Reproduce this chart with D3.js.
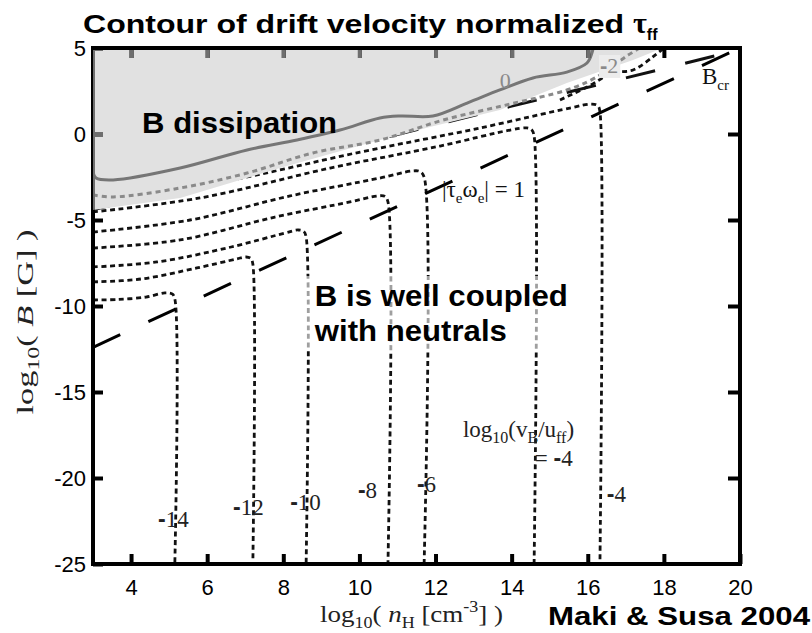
<!DOCTYPE html>
<html>
<head>
<meta charset="utf-8">
<script src="https://cdn.jsdelivr.net/npm/d3@7"></script>
<style>
  body { margin: 0; background: #fff; }
</style>
</head>
<body>
<div id="chart"></div>
<script>
// axis ticks
var xTicks = [4, 6, 8, 10, 12, 14, 16, 18, 20];
var yTicks = [5, 0, -5, -10, -15, -20, -25];

// dotted contours of log10(vB/uff): [log10 nH, log10 B]
var cN14 = [[3, -9.65], [3.66, -9.62], [4.39, -9.48], [4.89, -9.24], [5.08, -9.30], [5.15, -9.59], [5.15, -25]];
var cN12 = [[3, -8.60], [4.26, -8.43], [5.73, -7.79], [6.76, -7.27], [7.02, -7.15], [7.15, -7.24], [7.20, -7.56], [7.20, -25]];
var cN10 = [[3, -7.73], [4.68, -7.44], [6.63, -6.57], [8.04, -5.76], [8.39, -5.58], [8.54, -5.67], [8.60, -5.99], [8.60, -25]];
var cN8 = [[3, -6.63], [5.29, -6.16], [7.78, -4.83], [9.75, -3.95], [10.49, -3.60], [10.67, -3.63], [10.75, -3.95], [10.75, -25]];
var cN6 = [[3, -5.70], [5.55, -5.0], [8.18, -3.60], [10.54, -2.56], [11.38, -2.15], [11.59, -2.18], [11.70, -2.50], [11.70, -25]];
var cN4a = [[3, -4.53], [5.81, -3.72], [9.23, -1.98], [12.12, -0.70], [13.96, 0.23], [14.40, 0.35], [14.53, 0.23], [14.59, -0.12], [14.59, -25]];
var cN4b = [[3, -3.72], [6.34, -2.79], [10.02, -1.05], [13.17, 0.35], [15.53, 1.51], [16.11, 1.74], [16.27, 1.63], [16.32, 1.28], [16.32, -25]];
var cTopRight = [[15.27, 1.98], [15.98, 2.73], [16.66, 3.55], [17.19, 3.72], [17.71, 4.48], [17.97, 4.95]];

// grey contours (level -2 dotted, level 0 solid)
var cN2 = [[3, -3.55], [3.53, -3.66], [5.29, -3.14], [7.05, -2.27], [8.78, -1.10], [10.54, -0.35], [12.20, 0.81], [13.96, 1.74], [15.45, 2.56], [16.19, 3.26], [17.06, 4.59], [17.37, 5.0]];
var c0 = [[3, 5], [3, -2.21], [3.08, -2.56], [3.53, -2.67], [5.29, -1.98], [7.05, -0.93], [8.36, -0.35], [9.49, 0.23], [10.54, 0.93], [11.07, 1.05], [11.93, 1.05], [12.83, 1.80], [13.69, 2.56], [14.56, 3.26], [15.45, 3.60], [15.98, 4.13], [16.11, 4.71], [16.14, 5.0]];

// edge of the shaded "B dissipation" region
var grayEdge = [[3, 5], [17.97, 5], [17.19, 4.30], [15.45, 2.97], [13.69, 1.40], [11.85, 0.41], [10.54, -0.35], [7.91, -1.98], [5.29, -3.72], [3, -4.42]];

// long dashed lines
var bCr = [[3, -4.4], [20, 4.9]];
var tauOmega = [[3, -12.4], [20, 5]];

// level labels under the vertical contours (start, baseline)
var levelLabelVal = [-14, -12, -10, -8, -6, -4];
var levelLabelPos = [[4.71, -22.85], [6.68, -22.15], [8.18, -21.86], [9.96, -21.16], [11.51, -20.81], [16.50, -21.40]];

function init() {
    var w = 812;
    var h = 633;

    var x = d3.scaleLinear().domain([3, 20]).range([93, 740]);
    var y = d3.scaleLinear().domain([-25, 5]).range([564, 48]);

    var svg = d3.select("#chart")
        .append("svg")
        .attr("width", w)
        .attr("height", h);

    var serif = "'Liberation Serif', 'Times New Roman', serif";
    var sans = "'Liberation Sans', Arial, sans-serif";

    var defs = svg.append("defs");
    defs.append("clipPath").attr("id", "plot")
        .append("rect")
        .attr("x", x(3)).attr("y", y(5))
        .attr("width", x(20) - x(3)).attr("height", y(-25) - y(5));

    var line = d3.line()
        .x(function (d) { return x(d[0]); })
        .y(function (d) { return y(d[1]); })
        .curve(d3.curveCatmullRom.alpha(0.5));

    var straight = d3.line()
        .x(function (d) { return x(d[0]); })
        .y(function (d) { return y(d[1]); });

    var area = d3.line()
        .x(function (d) { return x(d[0]); })
        .y(function (d) { return y(d[1]); })
        .curve(d3.curveLinearClosed);

    defs.append("clipPath").attr("id", "grayClip")
        .append("path").attr("d", area(grayEdge));

    var plot = svg.append("g").attr("clip-path", "url(#plot)");

    // black dotted contours
    plot.selectAll("path.contour")
        .data([cN14, cN12, cN10, cN8, cN6, cN4a, cN4b, cTopRight])
        .enter()
        .append("path")
        .attr("class", "contour")
        .attr("d", line)
        .attr("fill", "none")
        .attr("stroke", "#111")
        .attr("stroke-width", 2.8)
        .attr("stroke-dasharray", "5,3.6");

    // B_cr runs along the edge of the shaded region, partly hidden by it
    plot.append("path")
        .attr("d", straight(bCr))
        .attr("fill", "none")
        .attr("stroke", "#111")
        .attr("stroke-width", 3)
        .attr("stroke-dasharray", "30,31");

    // shaded region
    plot.append("path")
        .attr("d", area(grayEdge))
        .attr("fill", "#e1e1e1");

    // axes
    function drawAxes(g, color) {
        var bottom = g.append("g")
            .attr("transform", "translate(0," + y(-25) + ")")
            .call(d3.axisBottom(x).tickValues(xTicks).tickSize(-10).tickPadding(15)
                .tickFormat(function (d) { return String(d); }));
        var top = g.append("g")
            .attr("transform", "translate(0," + y(5) + ")")
            .call(d3.axisTop(x).tickValues(xTicks.slice(0, -1)).tickSize(-10).tickFormat(""));
        var left = g.append("g")
            .attr("transform", "translate(" + x(3) + ",0)")
            .call(d3.axisLeft(y).tickValues(yTicks).tickSize(-10).tickPadding(7)
                .tickFormat(function (d) { return String(d); }));
        var right = g.append("g")
            .attr("transform", "translate(" + x(20) + ",0)")
            .call(d3.axisRight(y).tickValues(yTicks.slice(1, -1)).tickSize(-12).tickFormat(""));
        [bottom, top, left, right].forEach(function (a) {
            a.select(".domain").remove();
            a.selectAll(".tick line").attr("stroke", color).attr("stroke-width", 4);
            a.selectAll("text")
                .attr("fill", "#000")
                .style("font-family", sans)
                .style("font-size", "22px");
        });
    }

    drawAxes(svg.append("g"), "#000");

    svg.append("line")
        .attr("x1", x(3)).attr("x2", x(3)).attr("y1", y(5)).attr("y2", y(-25))
        .attr("stroke", "#000").attr("stroke-width", 4);
    svg.append("line")
        .attr("x1", x(20)).attr("x2", x(20)).attr("y1", y(5)).attr("y2", y(-25))
        .attr("stroke", "#000").attr("stroke-width", 4);
    svg.append("line")
        .attr("x1", x(3) - 2).attr("x2", x(20) + 2).attr("y1", y(-25)).attr("y2", y(-25))
        .attr("stroke", "#000").attr("stroke-width", 4);

    // ticks and left border inside the shaded region turn grey
    var grayAx = svg.append("g").attr("clip-path", "url(#grayClip)");
    grayAx.append("line")
        .attr("x1", x(3)).attr("x2", x(3)).attr("y1", y(5)).attr("y2", y(-25))
        .attr("stroke", "#6e6e6e").attr("stroke-width", 4);
    drawAxes(grayAx, "#6e6e6e");
    grayAx.selectAll("text").remove();

    svg.append("line")
        .attr("x1", x(3) - 2).attr("x2", x(20) + 2).attr("y1", y(5)).attr("y2", y(5))
        .attr("stroke", "#000").attr("stroke-width", 4);

    // grey contours
    plot.append("path")
        .attr("d", line(cN2))
        .attr("fill", "none")
        .attr("stroke", "#8a8a8a")
        .attr("stroke-width", 3)
        .attr("stroke-dasharray", "5,4");
    plot.append("path")
        .attr("d", line(c0))
        .attr("fill", "none")
        .attr("stroke", "#767676")
        .attr("stroke-width", 3);

    // |tau_e omega_e| = 1 line
    plot.append("path")
        .attr("d", straight(tauOmega))
        .attr("fill", "none")
        .attr("stroke", "#000")
        .attr("stroke-width", 3)
        .attr("stroke-dasharray", "30,31");

    // level labels at the bottom of the vertical contours
    var lab = svg.selectAll("text.level")
        .data(levelLabelVal)
        .enter()
        .append("text")
        .attr("class", "level")
        .attr("x", function (d, i) { return x(levelLabelPos[i][0]); })
        .attr("y", function (d, i) { return y(levelLabelPos[i][1]); })
        .style("font-family", serif)
        .style("font-size", "23px")
        .attr("fill", "#222");
    lab.append("tspan").style("font-family", sans).style("font-weight", "bold").text("-");
    lab.append("tspan").text(function (d) { return Math.abs(d); });

    // grey contour labels
    svg.append("text")
        .attr("x", x(13.69)).attr("y", y(2.67))
        .style("font-family", serif).style("font-size", "22px")
        .attr("fill", "#8a8a8a").text("0");
    var m2 = svg.append("g");
    var m2t = m2.append("text")
        .attr("x", x(16.32)).attr("y", y(3.55))
        .style("font-family", serif).style("font-size", "22px")
        .attr("fill", "#8a8a8a");
    m2t.append("tspan").style("font-family", sans).style("font-weight", "bold").text("-");
    m2t.append("tspan").text("2");
    var bb = m2t.node().getBBox();
    m2.insert("rect", "text")
        .attr("x", bb.x - 1).attr("y", bb.y + 2)
        .attr("width", bb.width + 3).attr("height", bb.height - 2)
        .attr("fill", "#ececec");

    // |tau_e omega_e| = 1
    var tw = svg.append("text")
        .attr("x", x(12.17)).attr("y", y(-3.66))
        .style("font-family", serif).style("font-size", "23px")
        .attr("fill", "#111");
    tw.append("tspan").text("|\u03c4");
    tw.append("tspan").attr("dy", 6).style("font-size", "15px").text("e");
    tw.append("tspan").attr("dy", -6).text("\u03c9");
    tw.append("tspan").attr("dy", 6).style("font-size", "15px").text("e");
    tw.append("tspan").attr("dy", -6).text("| = 1");

    // B_cr
    var bc = svg.append("text")
        .attr("x", x(19.0)).attr("y", y(2.91))
        .style("font-family", serif).style("font-size", "23px")
        .attr("fill", "#111");
    bc.append("tspan").text("B");
    bc.append("tspan").attr("dy", 6).style("font-size", "15px").text("cr");

    // log10(vB/uff) = -4
    var lv = svg.append("text")
        .attr("x", x(12.72)).attr("y", y(-17.62))
        .style("font-family", serif).style("font-size", "23px")
        .attr("fill", "#222");
    lv.append("tspan").text("log");
    lv.append("tspan").attr("dy", 6).style("font-size", "16px").text("10");
    lv.append("tspan").attr("dy", -6).text("(v");
    lv.append("tspan").attr("dy", 6).style("font-size", "16px").text("B");
    lv.append("tspan").attr("dy", -6).text("/u");
    lv.append("tspan").attr("dy", 6).style("font-size", "16px").text("ff");
    lv.append("tspan").attr("dy", -6).text(")");
    var eq = svg.append("text")
        .attr("x", x(14.61)).attr("y", y(-19.30))
        .style("font-family", serif).style("font-size", "23px")
        .attr("fill", "#222");
    eq.append("tspan").text("= ");
    eq.append("tspan").style("font-family", sans).style("font-weight", "bold").text("-");
    eq.append("tspan").text("4");

    // bold annotations
    svg.append("text")
        .attr("x", x(4.29)).attr("y", y(0.06))
        .style("font-family", sans).style("font-weight", "bold").style("font-size", "29px")
        .attr("textLength", 195).attr("lengthAdjust", "spacingAndGlyphs")
        .text("B dissipation");

    var cp = svg.append("g");
    var cpText = cp.append("text")
        .attr("x", x(8.83)).attr("y", y(-10.0))
        .style("font-family", sans).style("font-weight", "bold").style("font-size", "29px");
    cpText.append("tspan").attr("textLength", 253).attr("lengthAdjust", "spacingAndGlyphs")
        .text("B is well coupled");
    cpText.append("tspan").attr("x", x(8.83)).attr("dy", 35)
        .attr("textLength", 192).attr("lengthAdjust", "spacingAndGlyphs")
        .text("with neutrals");
    var cb = cpText.node().getBBox();
    cp.insert("rect", "text")
        .attr("x", cb.x - 14).attr("y", cb.y - 4)
        .attr("width", cb.width + 24).attr("height", cb.height + 8)
        .attr("fill", "#fff").attr("fill-opacity", 0.6);

    // title
    var title = svg.append("text")
        .attr("x", 83).attr("y", 33)
        .style("font-family", sans).style("font-weight", "bold").style("font-size", "25px");
    title.append("tspan").attr("textLength", 550).attr("lengthAdjust", "spacingAndGlyphs")
        .text("Contour of drift velocity normalized ");
    title.append("tspan").style("font-family", serif).style("font-size", "30px").text("\u03c4");
    title.append("tspan").attr("dy", 7).style("font-size", "16px").text("ff");

    // axis titles
    var xt = svg.append("text")
        .attr("x", 320).attr("y", 622)
        .attr("textLength", 183).attr("lengthAdjust", "spacingAndGlyphs")
        .style("font-family", serif).style("font-size", "24px")
        .attr("fill", "#222");
    xt.append("tspan").text("log");
    xt.append("tspan").attr("dy", 6).style("font-size", "16px").text("10");
    xt.append("tspan").attr("dy", -6).text("( ");
    xt.append("tspan").style("font-style", "italic").text("n");
    xt.append("tspan").attr("dy", 6).style("font-size", "16px").text("H");
    xt.append("tspan").attr("dy", -6).text(" [cm");
    xt.append("tspan").attr("dy", -10).style("font-size", "16px").text("-3");
    xt.append("tspan").attr("dy", 10).text("] )");

    var yt = svg.append("text")
        .attr("transform", "translate(33,322) rotate(-90)")
        .attr("text-anchor", "middle")
        .attr("textLength", 185).attr("lengthAdjust", "spacingAndGlyphs")
        .style("font-family", serif).style("font-size", "23px")
        .attr("fill", "#222");
    yt.append("tspan").text("log");
    yt.append("tspan").attr("dy", 6).style("font-size", "16px").text("10");
    yt.append("tspan").attr("dy", -6).text("( ");
    yt.append("tspan").style("font-style", "italic").text("B");
    yt.append("tspan").text(" [G] )");

    svg.append("text")
        .attr("x", 548).attr("y", 625)
        .style("font-family", sans).style("font-weight", "bold").style("font-size", "26px")
        .attr("textLength", 262).attr("lengthAdjust", "spacingAndGlyphs")
        .text("Maki & Susa 2004");
}

window.onload = init;
</script>
</body>
</html>
